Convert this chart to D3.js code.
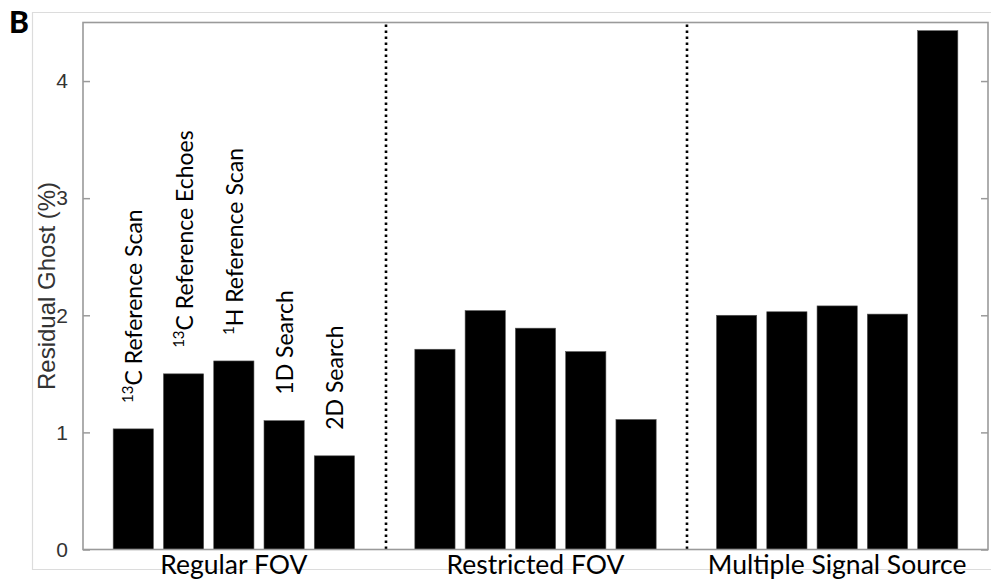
<!DOCTYPE html>
<html>
<head>
<meta charset="utf-8">
<script src="https://cdn.jsdelivr.net/npm/d3@7"></script>
<style>
  html, body { margin: 0; padding: 0; background: #fff; }
  svg { display: block; }
</style>
</head>
<body>
<svg id="chart" width="991" height="585"></svg>
<script>
// Residual ghost per correction method, grouped by acquisition condition
const groups = ["Regular FOV", "Restricted FOV", "Multiple Signal Source"];
const regularFov = [1.03, 1.50, 1.61, 1.10, 0.80];
const restrictedFov = [1.71, 2.04, 1.89, 1.69, 1.11];
const multipleSource = [2.00, 2.03, 2.08, 2.01, 4.43];
const methodLabels = [
  { sup: "13", text: "C Reference Scan" },
  { sup: "13", text: "C Reference Echoes" },
  { sup: "1", text: "H Reference Scan" },
  { sup: "", text: "1D Search" },
  { sup: "", text: "2D Search" }
];
const yTicks = [0, 1, 2, 3, 4];
const yLabel = "Residual Ghost (%)";
const panelLetter = "B";

const seriesByGroup = [regularFov, restrictedFov, multipleSource];
const perGroup = regularFov.length;

// Flatten into slot positions: each group takes perGroup slots plus one divider slot
const bars = [];
seriesByGroup.forEach((vals, g) => {
  vals.forEach((v, i) => {
    bars.push({ group: g, method: i, value: v, slot: g * (perGroup + 1) + i + 1 });
  });
});
const totalSlots = seriesByGroup.length * (perGroup + 1);
const dividers = d3.range(1, seriesByGroup.length).map(g => g * (perGroup + 1));

const svg = d3.select("#chart");
const margin = { left: 83, right: 3, top: 22.5, bottom: 35.5 };
const W = 991, H = 585;

const x = d3.scaleLinear().domain([0, totalSlots]).range([margin.left, W - margin.right]);
const y = d3.scaleLinear().domain([0, 4.5]).range([H - margin.bottom, margin.top]);
const barW = (x(1) - x(0)) * 0.8;

const axisGray = "#9a9a9a";
const labelFont = "Lato, 'Open Sans', sans-serif";
const tickFont = "'Liberation Sans', Arial, sans-serif";

// Light outer frame
svg.append("path")
  .attr("d", `M${W},12.5 H32.5 V569.5 H${W}`)
  .attr("fill", "none")
  .attr("stroke", "#dcdcdc")
  .attr("stroke-width", 1.2);

// Panel letter
svg.append("text")
  .attr("x", 9)
  .attr("y", 33)
  .attr("font-family", labelFont)
  .attr("font-weight", 900)
  .attr("font-size", 30)
  .attr("fill", "#000")
  .text(panelLetter);

// Bars
svg.append("g")
  .selectAll("rect")
  .data(bars)
  .join("rect")
  .attr("x", d => x(d.slot) - barW / 2)
  .attr("width", barW)
  .attr("y", d => y(d.value))
  .attr("height", d => y(0) - y(d.value))
  .attr("fill", "#000")
  .attr("stroke", "#555")
  .attr("stroke-width", 0.6);

// Dotted group dividers
svg.append("g")
  .selectAll("line")
  .data(dividers)
  .join("line")
  .attr("x1", d => Math.round(x(d)) + 1).attr("x2", d => Math.round(x(d)) + 1)
  .attr("y1", y(4.5) + 2).attr("y2", y(0))
  .attr("stroke", "#000")
  .attr("stroke-width", 2.6)
  .attr("stroke-dasharray", "2.6,3.4");

// Left axis with inward ticks
const leftAxis = svg.append("g")
  .attr("transform", `translate(${x(0)},0)`)
  .call(d3.axisLeft(y).tickValues(yTicks).tickSize(-7).tickPadding(15).tickFormat(d3.format("d")));
leftAxis.select(".domain").remove();
leftAxis.selectAll(".tick line").attr("stroke", axisGray).attr("stroke-width", 1.5);
leftAxis.selectAll(".tick text")
  .attr("font-family", tickFont)
  .attr("font-size", 21)
  .attr("fill", "#333");

// Right axis mirrored ticks
const rightAxis = svg.append("g")
  .attr("transform", `translate(${x(totalSlots)},0)`)
  .call(d3.axisRight(y).tickValues(yTicks).tickSize(-7).tickFormat(""));
rightAxis.select(".domain").remove();
rightAxis.selectAll(".tick line").attr("stroke", axisGray).attr("stroke-width", 1.5);

// Axes box
svg.append("rect")
  .attr("x", x(0)).attr("y", y(4.5))
  .attr("width", x(totalSlots) - x(0))
  .attr("height", y(0) - y(4.5))
  .attr("fill", "none")
  .attr("stroke", axisGray)
  .attr("stroke-width", 1.6);

// Y axis title
svg.append("text")
  .attr("transform", `translate(55,286) rotate(-90)`)
  .attr("text-anchor", "middle")
  .attr("font-family", tickFont)
  .attr("font-size", 24)
  .attr("fill", "#333")
  .text(yLabel);

// Method labels above the first group's bars
const firstGroup = bars.filter(b => b.group === 0);
const lbl = svg.append("g")
  .selectAll("text")
  .data(firstGroup)
  .join("text")
  .attr("transform", d => `translate(${x(d.slot) + 9},${y(d.value) - 26}) rotate(-90)`)
  .attr("text-anchor", "start")
  .attr("font-family", labelFont)
  .attr("font-size", 23)
  .attr("fill", "#000");
lbl.each(function(d) {
  const t = d3.select(this);
  const m = methodLabels[d.method];
  if (m.sup) {
    t.append("tspan").attr("font-size", 15).attr("dy", -9).text(m.sup);
    t.append("tspan").attr("dy", 9).text(m.text);
  } else {
    t.append("tspan").text(m.text);
  }
});

// Group labels under the axis
svg.append("g")
  .selectAll("text")
  .data(groups)
  .join("text")
  .attr("x", (d, g) => x(g * (perGroup + 1) + (perGroup + 1) / 2))
  .attr("y", 574)
  .attr("text-anchor", "middle")
  .attr("font-family", labelFont)
  .attr("font-size", 26.5)
  .attr("fill", "#000")
  .text(d => d);
</script>
</body>
</html>
